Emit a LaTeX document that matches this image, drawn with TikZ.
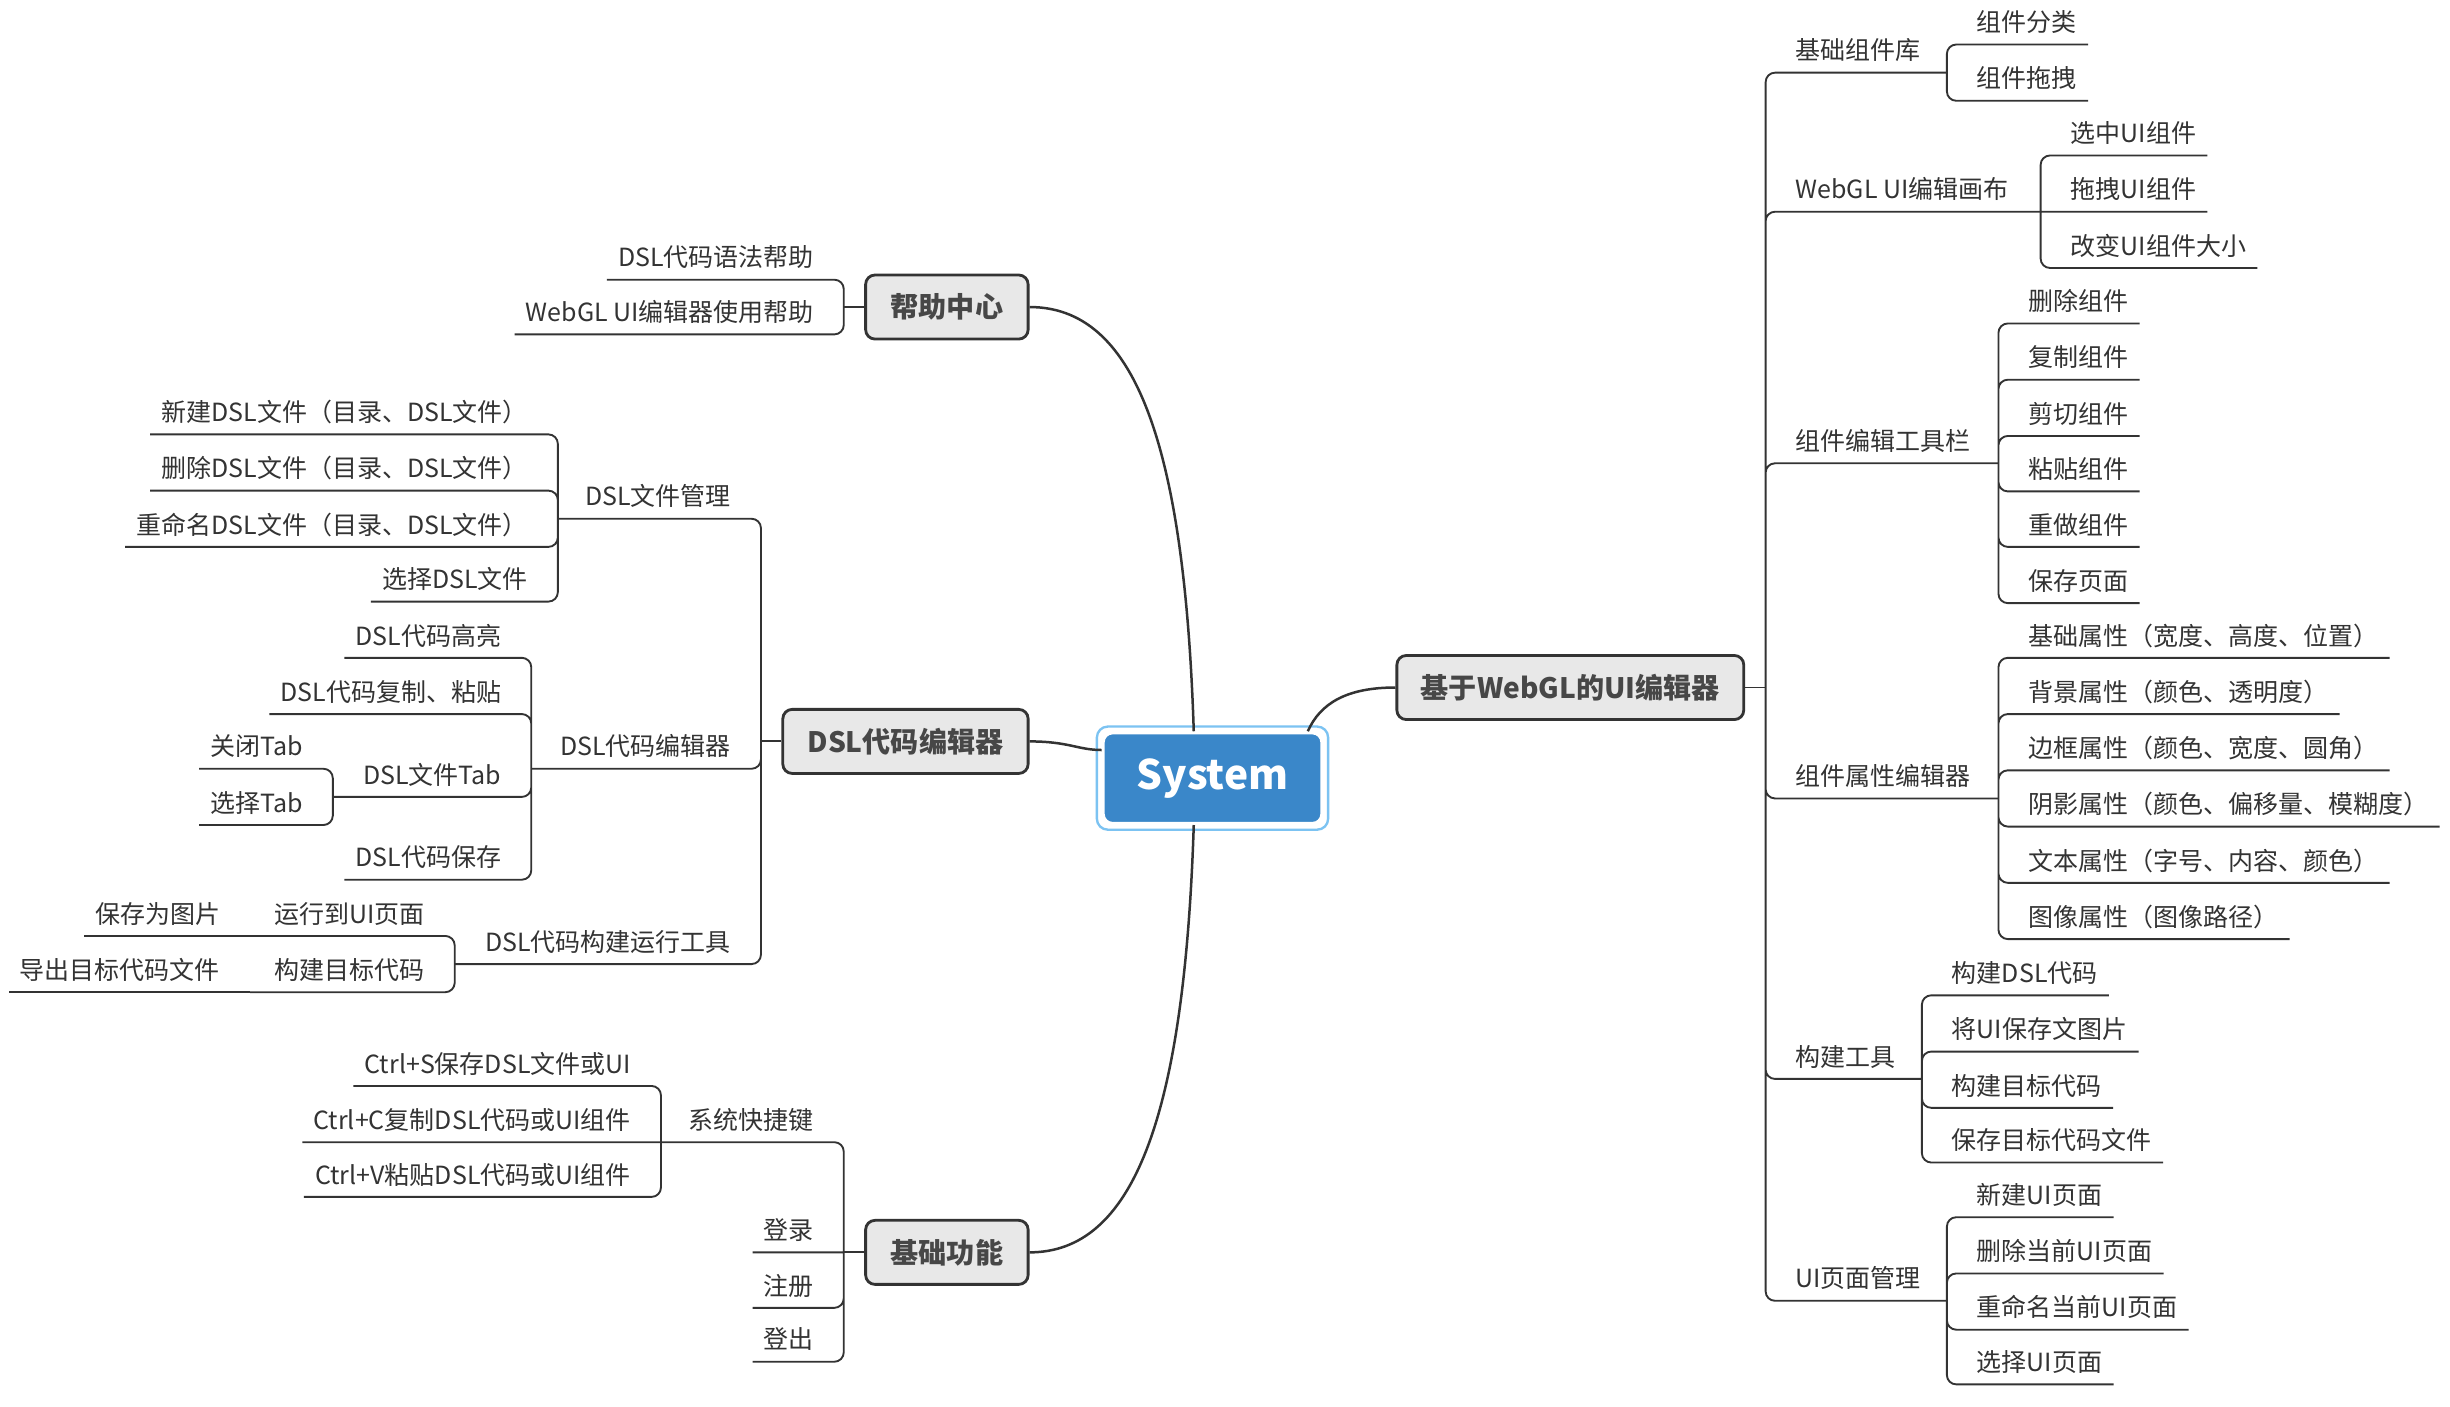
\documentclass[tikz,border=0pt]{standalone}
\usepackage{fontspec}
\setmainfont{Noto Sans CJK SC}
\usetikzlibrary{positioning,calc}

\definecolor{linegray}{HTML}{333333}
\definecolor{topicgray}{HTML}{E8E8E8}
\definecolor{sysblue}{HTML}{3A87C9}
\definecolor{selblue}{HTML}{7CC3F2}

\begin{document}
\begin{tikzpicture}[x=1pt, y=-1pt,
				topic/.style={draw=linegray, line width=1.8pt, fill=topicgray, rounded corners=6pt, minimum height=41pt, inner xsep=4pt, font=\fontsize{18}{20}\selectfont\bfseries, text=linegray!90},
				item/.style={inner xsep=7pt, inner ysep=6.5pt, text height=12pt, text depth=1.5pt, font=\fontsize{16}{18}\selectfont, text=linegray},
				branch/.style={draw=linegray, line width=1.2pt, rounded corners=6pt},
				curve/.style={draw=linegray, line width=1.6pt}
				]
				\fill[white] (0,0) rectangle (1568,900);
				\useasboundingbox (0,0) rectangle (1568,900);
				
				% root and main topics
				\node[fill=sysblue, draw=white, line width=2pt, rounded corners=6pt, minimum width=140pt, minimum height=58pt, font=\fontsize{26}{28}\selectfont\bfseries, text=white] (sys) at (776,498) {System};
				\draw[selblue, line width=1.5pt, rounded corners=7pt] ([shift={(-3,-3)}]sys.north west) rectangle ([shift={(3,3)}]sys.south east);
				\node[topic, minimum width=104pt] (help) at (606,196.5) {帮助中心};
				\node[topic, minimum width=157pt] (editor) at (579.5,474.5) {DSL代码编辑器};
				\node[topic, minimum width=104pt] (basic) at (606,801.5) {基础功能};
				\node[topic, minimum width=222pt] (webui) at (1005,440) {基于WebGL的UI编辑器};
				
				\draw[curve] ([xshift=-12pt]sys.north) .. controls (758,280) and (725,196.5) .. (help.east);
				\draw[curve] ([xshift=-12pt]sys.south) .. controls (758,716) and (725,801.5) .. (basic.east);
				\draw[curve] (editor.east) .. controls (684,474.5) and (690,480) .. ([yshift=18pt]sys.west);
				\draw[curve] ([xshift=61pt]sys.north) .. controls (845,450) and (862,440) .. (webui.west);
				
				% bracket points
				\coordinate (helpJ) at (540,196.5);
				\coordinate (editorJ) at (487,474.5);
				\coordinate (basicJ) at (540,801.5);
				\coordinate (webuiJ) at (1130,440);
				\coordinate (fileJ) at (357,332);
				\coordinate (codeJ) at (340,492);
				\coordinate (tabJ) at (213,510);
				\coordinate (buildJ) at (291,617);
				\coordinate (runJ) at (160,599);
				\coordinate (targetJ) at (160,635);
				\coordinate (keyJ) at (423,731);
				\coordinate (libJ) at (1246,46.5);
				\coordinate (canvasJ) at (1306,135.5);
				\coordinate (toolJ) at (1279,296.5);
				\coordinate (propJ) at (1279,511);
				\coordinate (makeJ) at (1230,690.5);
				\coordinate (pageJ) at (1246,832.5);
				
				% help
				\node[item, anchor=south east] (h1) at (528,179) {DSL代码语法帮助};
				\node[item, anchor=south east] (h2) at (528,214) {WebGL UI编辑器使用帮助};
				
				% editor
				\node[item, anchor=south east] (e1) at (475,332) {DSL文件管理};
				\node[item, anchor=south east] (e2) at (475,492) {DSL代码编辑器};
				\node[item, anchor=south east] (e3) at (475,617) {DSL代码构建运行工具};
				\node[item, anchor=south east] (f1) at (345,278) {新建DSL文件（目录、DSL文件）};
				\node[item, anchor=south east] (f2) at (345,314) {删除DSL文件（目录、DSL文件）};
				\node[item, anchor=south east] (f3) at (345,350) {重命名DSL文件（目录、DSL文件）};
				\node[item, anchor=south east] (f4) at (345,385) {选择DSL文件};
				\node[item, anchor=south east] (d1) at (328,421) {DSL代码高亮};
				\node[item, anchor=south east] (d2) at (328,457) {DSL代码复制、粘贴};
				\node[item, anchor=south east] (d3) at (328,510) {DSL文件Tab};
				\node[item, anchor=south east] (d4) at (328,563) {DSL代码保存};
				\node[item, anchor=south east] (t1) at (201,492) {关闭Tab};
				\node[item, anchor=south east] (t2) at (201,528) {选择Tab};
				\node[item, anchor=south east] (r1) at (279,599) {运行到UI页面};
				\node[item, anchor=south east] (r2) at (279,635) {构建目标代码};
				\node[item, anchor=south east] (r1a) at (148,599) {保存为图片};
				\node[item, anchor=south east] (r2a) at (148,635) {导出目标代码文件};
				
				% basic
				\node[item, anchor=south east] (b1) at (528,731) {系统快捷键};
				\node[item, anchor=south east] (b2) at (528,801.5) {登录};
				\node[item, anchor=south east] (b3) at (528,837) {注册};
				\node[item, anchor=south east] (b4) at (528,871.5) {登出};
				\node[item, anchor=south east] (k1) at (411,695) {Ctrl+S保存DSL文件或UI};
				\node[item, anchor=south east] (k2) at (411,731) {Ctrl+C复制DSL代码或UI组件};
				\node[item, anchor=south east] (k3) at (411,766) {Ctrl+V粘贴DSL代码或UI组件};
				
				% webui
				\node[item, anchor=south west] (w1) at (1142,46.5) {基础组件库};
				\node[item, anchor=south west] (w2) at (1142,135.5) {WebGL UI编辑画布};
				\node[item, anchor=south west] (w3) at (1142,296.5) {组件编辑工具栏};
				\node[item, anchor=south west] (w4) at (1142,511) {组件属性编辑器};
				\node[item, anchor=south west] (w5) at (1142,690.5) {构建工具};
				\node[item, anchor=south west] (w6) at (1142,832.5) {UI页面管理};
				\node[item, anchor=south west] (c1) at (1258,28.5) {组件分类};
				\node[item, anchor=south west] (c2) at (1258,64.5) {组件拖拽};
				\node[item, anchor=south west] (v1) at (1318,99.5) {选中UI组件};
				\node[item, anchor=south west] (v2) at (1318,135.5) {拖拽UI组件};
				\node[item, anchor=south west] (v3) at (1318,171.5) {改变UI组件大小};
				\node[item, anchor=south west] (s1) at (1291,207) {删除组件};
				\node[item, anchor=south west] (s2) at (1291,243) {复制组件};
				\node[item, anchor=south west] (s3) at (1291,279) {剪切组件};
				\node[item, anchor=south west] (s4) at (1291,314.5) {粘贴组件};
				\node[item, anchor=south west] (s5) at (1291,350) {重做组件};
				\node[item, anchor=south west] (s6) at (1291,386) {保存页面};
				\node[item, anchor=south west] (p1) at (1291,421) {基础属性（宽度、高度、位置）};
				\node[item, anchor=south west] (p2) at (1291,457) {背景属性（颜色、透明度）};
				\node[item, anchor=south west] (p3) at (1291,493) {边框属性（颜色、宽度、圆角）};
				\node[item, anchor=south west] (p4) at (1291,529) {阴影属性（颜色、偏移量、模糊度）};
				\node[item, anchor=south west] (p5) at (1291,565) {文本属性（字号、内容、颜色）};
				\node[item, anchor=south west] (p6) at (1291,601) {图像属性（图像路径）};
				\node[item, anchor=south west] (u1) at (1242,637) {构建DSL代码};
				\node[item, anchor=south west] (u2) at (1242,673) {将UI保存文图片};
				\node[item, anchor=south west] (u3) at (1242,709) {构建目标代码};
				\node[item, anchor=south west] (u4) at (1242,744) {保存目标代码文件};
				\node[item, anchor=south west] (g1) at (1258,779) {新建UI页面};
				\node[item, anchor=south west] (g2) at (1258,815) {删除当前UI页面};
				\node[item, anchor=south west] (g3) at (1258,851) {重命名当前UI页面};
				\node[item, anchor=south west] (g4) at (1258,886) {选择UI页面};
				
				% connectors, left side
				\draw[branch] (help.west) -- (helpJ);
				\draw[branch] (helpJ) |- (h1.south west) (helpJ) |- (h2.south west);
				\draw[branch] (editor.west) -- (editorJ);
				\draw[branch] (editorJ) |- (e1.south west) -- (fileJ) (editorJ) |- (e2.south west) -- (codeJ) (editorJ) |- (e3.south west) -- (buildJ);
				\draw[branch] (fileJ) |- (f1.south west) (fileJ) |- (f2.south west) (fileJ) |- (f3.south west) (fileJ) |- (f4.south west);
				\draw[branch] (codeJ) |- (d1.south west) (codeJ) |- (d2.south west) (codeJ) |- (d3.south west) -- (tabJ) (codeJ) |- (d4.south west);
				\draw[branch] (tabJ) |- (t1.south west) (tabJ) |- (t2.south west);
				\draw[branch] (buildJ) |- (r1.south west) -- (runJ) (buildJ) |- (r2.south west) -- (targetJ);
				\draw[branch] (runJ) -- (r1a.south west);
				\draw[branch] (targetJ) -- (r2a.south west);
				\draw[branch] (basic.west) -- (basicJ);
				\draw[branch] (basicJ) |- (b1.south west) -- (keyJ) (basicJ) -- (b2.south west) (basicJ) |- (b3.south west) (basicJ) |- (b4.south west);
				\draw[branch] (keyJ) |- (k1.south west) (keyJ) -- (k2.south west) (keyJ) |- (k3.south west);
				
				% connectors, right side
				\draw[branch] (webui.east) -- (webuiJ);
				\draw[branch] (webuiJ) |- (w1.south east) -- (libJ) (webuiJ) |- (w2.south east) -- (canvasJ) (webuiJ) |- (w3.south east) -- (toolJ) (webuiJ) |- (w4.south east) -- (propJ) (webuiJ) |- (w5.south east) -- (makeJ) (webuiJ) |- (w6.south east) -- (pageJ);
				\draw[branch] (libJ) |- (c1.south east) (libJ) |- (c2.south east);
				\draw[branch] (canvasJ) |- (v1.south east) (canvasJ) -- (v2.south east) (canvasJ) |- (v3.south east);
				\draw[branch] (toolJ) |- (s1.south east) (toolJ) |- (s2.south east) (toolJ) |- (s3.south east) (toolJ) |- (s4.south east) (toolJ) |- (s5.south east) (toolJ) |- (s6.south east);
				\draw[branch] (propJ) |- (p1.south east) (propJ) |- (p2.south east) (propJ) |- (p3.south east) (propJ) |- (p4.south east) (propJ) |- (p5.south east) (propJ) |- (p6.south east);
				\draw[branch] (makeJ) |- (u1.south east) (makeJ) |- (u2.south east) (makeJ) |- (u3.south east) (makeJ) |- (u4.south east);
				\draw[branch] (pageJ) |- (g1.south east) (pageJ) |- (g2.south east) (pageJ) |- (g3.south east) (pageJ) |- (g4.south east);
			\end{tikzpicture}
\end{document}
